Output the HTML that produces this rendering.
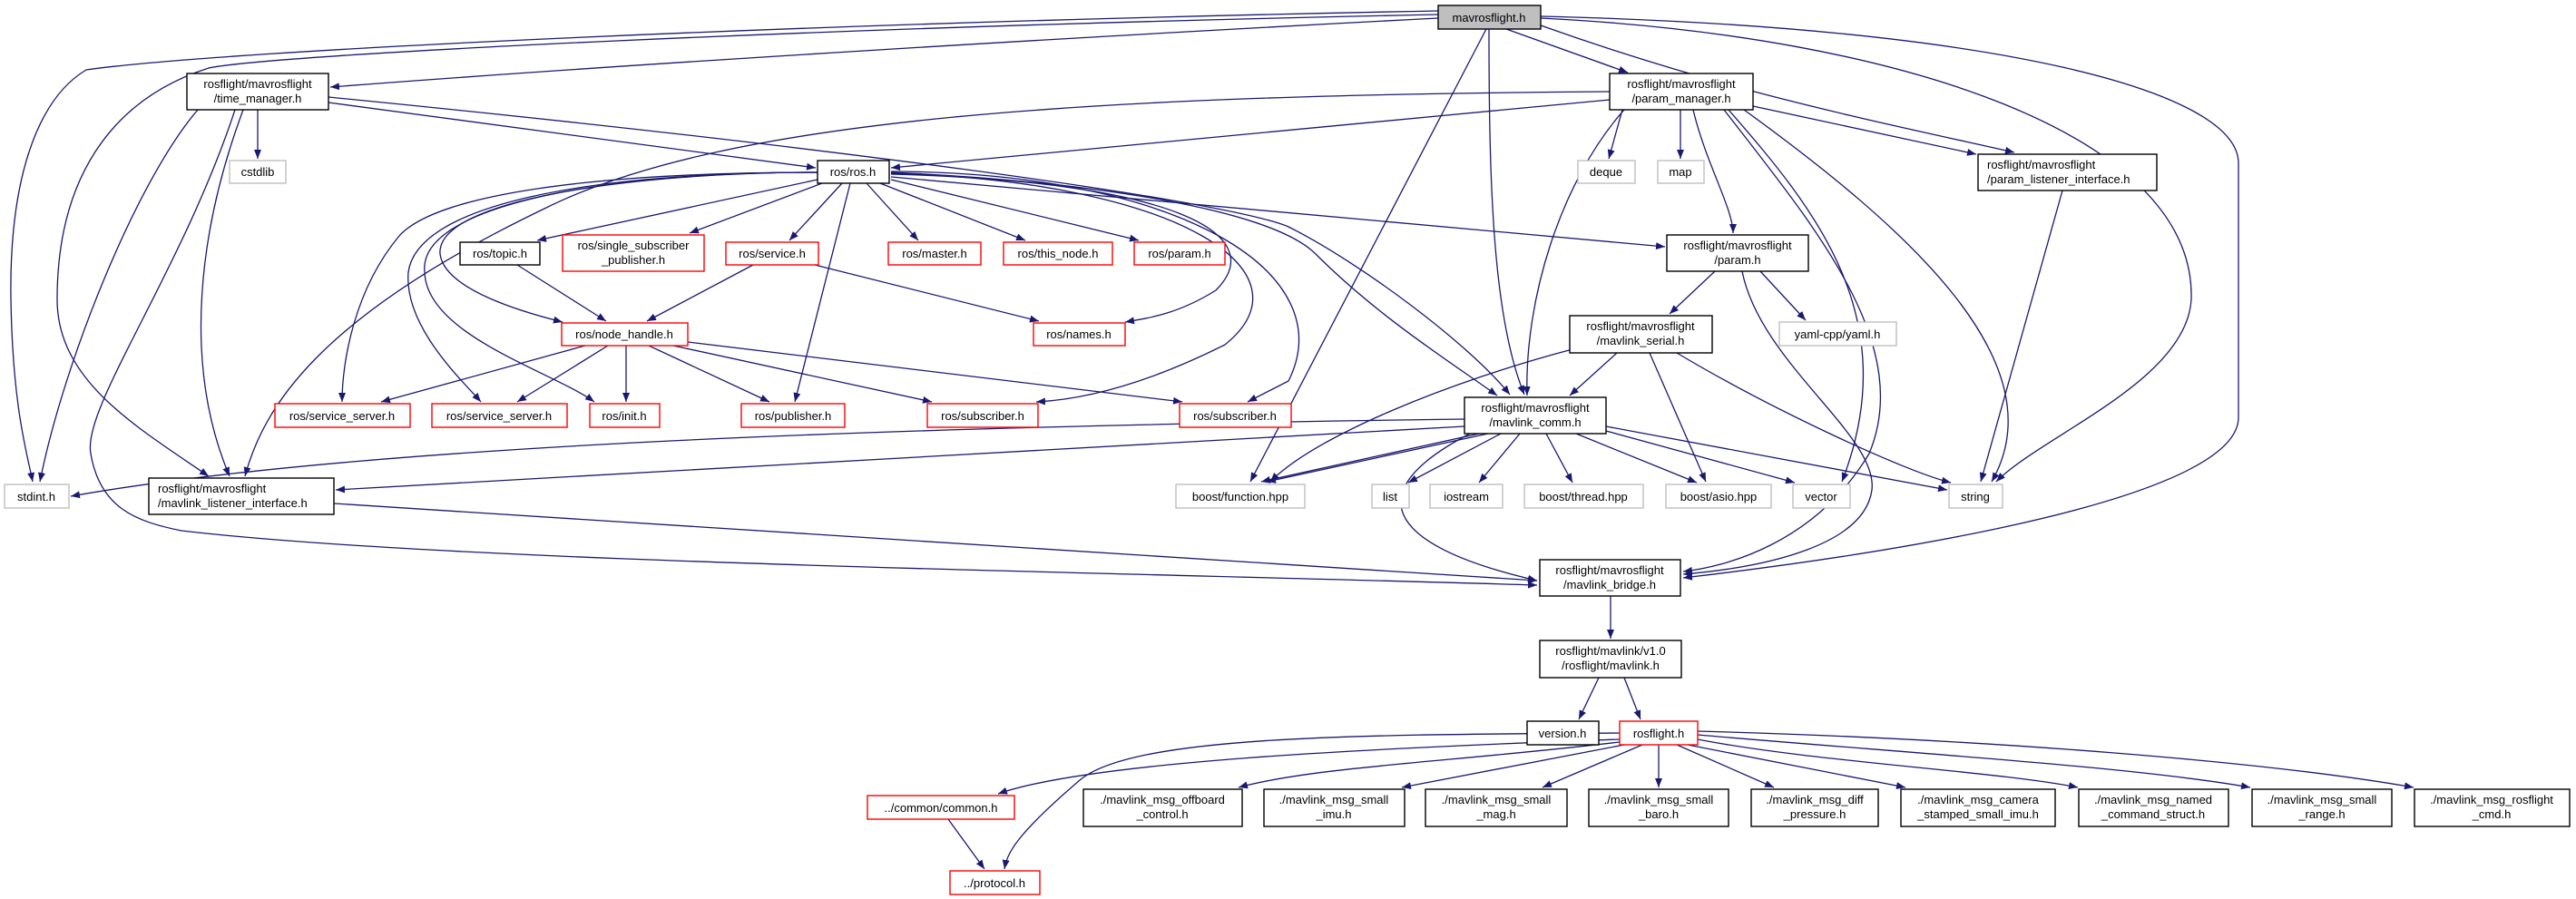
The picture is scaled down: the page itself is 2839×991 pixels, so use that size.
<!DOCTYPE html>
<html><head><meta charset="utf-8"><style>
html,body{margin:0;padding:0;background:#fff;}
svg{display:block;}
text{font-family:"Liberation Sans",sans-serif;font-size:13px;fill:#000;}
.e{fill:none;stroke:#191970;stroke-width:1.3;marker-end:url(#a);}
.b{fill:#fff;stroke:#000;stroke-width:1.4;}
.r{fill:#fff;stroke:#ff0000;stroke-width:1.4;}
.g{fill:#fff;stroke:#bfbfbf;stroke-width:1.4;}
</style></head><body>
<svg width="2839" height="991" viewBox="0 0 2839 991" xmlns="http://www.w3.org/2000/svg">
<defs><marker id="a" markerUnits="userSpaceOnUse" markerWidth="11" markerHeight="9" refX="10" refY="4" orient="auto"><path d="M0,0 L10,4 L0,8 z" fill="#191970"/></marker></defs>
<!-- edges -->
<path class="e" d="M1585,20 C1200,40 700,70 364,96"/>
<path class="e" d="M1585,12 C900,25 250,55 95,77 C40,110 10,200 12,330 C14,450 30,500 36,531"/>
<path class="e" d="M1585,16 C900,30 300,60 230,75 C120,110 63,200 63,330 C63,420 150,470 230,525"/>
<path class="e" d="M1660,32 L1794,80"/>
<path class="e" d="M1638,32 L1378,531"/>
<path class="e" d="M1641,32 C1641,200 1645,350 1680,435"/>
<path class="e" d="M1698,28 C1900,100 2050,130 2220,168"/>
<path class="e" d="M1698,20 C2100,40 2420,150 2415,330 C2410,420 2250,480 2200,531"/>
<path class="e" d="M1698,18 C2200,30 2467,100 2467,180 L2467,460 C2467,560 2000,620 1855,637"/>
<path class="e" d="M284,121 L284,175"/>
<path class="e" d="M362,113 L899,185"/>
<path class="e" d="M218,121 C150,200 70,400 44,531"/>
<path class="e" d="M268,121 C220,250 200,400 253,525"/>
<path class="e" d="M259,121 C200,300 90,450 100,500 C110,560 150,575 200,585 C500,620 1200,630 1694,645"/>
<path class="e" d="M362,107 C900,160 1350,220 1420,250 C1500,290 1620,380 1664,435"/>
<path class="e" d="M1774,110 L982,185"/>
<path class="e" d="M1774,101 C1200,105 800,130 600,230 C350,350 290,450 270,525"/>
<path class="e" d="M1788,121 L1773,175"/>
<path class="e" d="M1852,121 L1852,175"/>
<path class="e" d="M1866,121 C1880,180 1910,230 1910,257"/>
<path class="e" d="M1932,117 L2178,170"/>
<path class="e" d="M1790,121 C1720,200 1680,330 1683,436"/>
<path class="e" d="M1905,121 C2000,230 2100,350 2030,531"/>
<path class="e" d="M1922,121 C2100,250 2270,400 2195,531"/>
<path class="e" d="M1900,121 C2000,250 2110,380 2060,500 C2000,600 1900,625 1855,630"/>
<path class="e" d="M1890,299 L1840,346"/>
<path class="e" d="M1940,299 L1990,353"/>
<path class="e" d="M1920,299 C1940,400 2070,480 2063,540 C2055,600 1950,625 1855,633"/>
<path class="e" d="M1782,389 L1730,436"/>
<path class="e" d="M1733,385 C1600,420 1450,480 1400,531"/>
<path class="e" d="M1818,389 L1880,531"/>
<path class="e" d="M1848,389 C1950,450 2100,520 2150,532"/>
<path class="e" d="M2273,210 L2183,531"/>
<path class="e" d="M901,198 L592,265"/>
<path class="e" d="M906,202 L760,257"/>
<path class="e" d="M928,202 L870,265"/>
<path class="e" d="M937,202 L876,443"/>
<path class="e" d="M955,202 L1012,265"/>
<path class="e" d="M970,202 L1130,265"/>
<path class="e" d="M982,198 L1255,265"/>
<path class="e" d="M982,195 L1835,272"/>
<path class="e" d="M982,190 C1200,200 1400,230 1450,280 C1520,350 1600,400 1650,436"/>
<path class="e" d="M982,192 C1300,200 1400,260 1340,320 C1300,345 1270,350 1240,355"/>
<path class="e" d="M982,191 C1300,200 1450,300 1350,380 C1270,420 1200,440 1142,443"/>
<path class="e" d="M982,189 C1300,190 1480,300 1420,420 L1375,443"/>
<path class="e" d="M901,190 C700,190 480,220 485,280 C490,320 580,345 620,355"/>
<path class="e" d="M901,190 C650,190 480,215 440,260 C390,320 377,400 377,443"/>
<path class="e" d="M901,190 C650,190 460,225 450,300 C445,360 510,420 530,443"/>
<path class="e" d="M901,190 C650,190 460,230 468,300 C470,370 610,410 655,443"/>
<path class="e" d="M570,292 L668,354"/>
<path class="e" d="M830,292 L713,354"/>
<path class="e" d="M898,292 L1145,354"/>
<path class="e" d="M645,381 L420,443"/>
<path class="e" d="M670,381 L570,443"/>
<path class="e" d="M690,381 L690,443"/>
<path class="e" d="M715,381 L848,443"/>
<path class="e" d="M742,381 L1027,443"/>
<path class="e" d="M758,377 L1303,443"/>
<path class="e" d="M1614,462 C1000,470 400,490 78,547"/>
<path class="e" d="M1614,470 L370,540"/>
<path class="e" d="M1630,478 L1390,531"/>
<path class="e" d="M1640,478 L1396,531"/>
<path class="e" d="M1654,478 L1552,532"/>
<path class="e" d="M1675,478 L1630,532"/>
<path class="e" d="M1704,478 L1733,532"/>
<path class="e" d="M1737,478 L1870,532"/>
<path class="e" d="M1770,475 L1978,532"/>
<path class="e" d="M1770,470 L2146,540"/>
<path class="e" d="M1620,478 C1500,540 1520,600 1694,640"/>
<path class="e" d="M368,555 L1694,640"/>
<path class="e" d="M1775,657 L1775,704"/>
<path class="e" d="M1762,747 L1740,793"/>
<path class="e" d="M1790,747 L1808,793"/>
<path class="e" d="M1785,815 C1500,825 1200,840 1100,875"/>
<path class="e" d="M1785,808 C1500,810 1250,810 1190,860 C1120,920 1110,940 1107,958"/>
<path class="e" d="M1045,903 L1085,958"/>
<path class="e" d="M1785,818 C1600,840 1450,845 1365,868"/>
<path class="e" d="M1790,821 L1545,868"/>
<path class="e" d="M1810,821 L1700,868"/>
<path class="e" d="M1828,821 L1828,868"/>
<path class="e" d="M1848,821 L1955,868"/>
<path class="e" d="M1860,821 L2100,868"/>
<path class="e" d="M1871,815 C2000,840 2200,850 2290,868"/>
<path class="e" d="M1871,810 C2100,830 2350,845 2480,868"/>
<path class="e" d="M1871,806 C2200,815 2500,840 2660,868"/>
<!-- nodes -->
<g text-anchor="middle">
<rect x="1585" y="6" width="113" height="26" fill="#bfbfbf" stroke="#000" stroke-width="1.4"/><text x="1641" y="24">mavrosflight.h</text>
<rect class="b" x="206" y="81" width="156" height="40"/><text x="284" y="97">rosflight/mavrosflight</text><text x="284" y="113">/time_manager.h</text>
<rect class="b" x="1774" y="81" width="158" height="40"/><text x="1853" y="97">rosflight/mavrosflight</text><text x="1853" y="113">/param_manager.h</text>
<rect class="g" x="253" y="177" width="62" height="25"/><text x="284" y="194">cstdlib</text>
<rect class="b" x="901" y="177" width="79" height="25"/><text x="940" y="194">ros/ros.h</text>
<rect class="g" x="1739" y="177" width="63" height="25"/><text x="1770" y="194">deque</text>
<rect class="g" x="1827" y="177" width="51" height="25"/><text x="1852" y="194">map</text>
<rect class="b" x="2180" y="170" width="197" height="40"/><text x="2190" y="186" text-anchor="start">rosflight/mavrosflight</text><text x="2190" y="202" text-anchor="start">/param_listener_interface.h</text>
<rect class="b" x="507" y="267" width="88" height="25"/><text x="551" y="284">ros/topic.h</text>
<rect class="r" x="620" y="259" width="156" height="40"/><text x="698" y="275">ros/single_subscriber</text><text x="698" y="291">_publisher.h</text>
<rect class="r" x="800" y="267" width="102" height="25"/><text x="851" y="284">ros/service.h</text>
<rect class="r" x="979" y="267" width="102" height="25"/><text x="1030" y="284">ros/master.h</text>
<rect class="r" x="1106" y="267" width="120" height="25"/><text x="1166" y="284">ros/this_node.h</text>
<rect class="r" x="1250" y="267" width="100" height="25"/><text x="1300" y="284">ros/param.h</text>
<rect class="b" x="1837" y="259" width="156" height="40"/><text x="1915" y="275">rosflight/mavrosflight</text><text x="1915" y="291">/param.h</text>
<rect class="r" x="619" y="356" width="139" height="25"/><text x="688" y="373">ros/node_handle.h</text>
<rect class="r" x="1139" y="356" width="101" height="25"/><text x="1189" y="373">ros/names.h</text>
<rect class="b" x="1730" y="348" width="157" height="41"/><text x="1808" y="364">rosflight/mavrosflight</text><text x="1808" y="380">/mavlink_serial.h</text>
<rect class="g" x="1961" y="355" width="129" height="26"/><text x="2025" y="373">yaml-cpp/yaml.h</text>
<rect class="r" x="303" y="445" width="149" height="26"/><text x="377" y="463">ros/service_server.h</text>
<rect class="r" x="476" y="445" width="149" height="26"/><text x="550" y="463">ros/service_server.h</text>
<rect class="r" x="650" y="445" width="77" height="26"/><text x="688" y="463">ros/init.h</text>
<rect class="r" x="817" y="445" width="114" height="26"/><text x="874" y="463">ros/publisher.h</text>
<rect class="r" x="1022" y="445" width="122" height="26"/><text x="1083" y="463">ros/subscriber.h</text>
<rect class="r" x="1300" y="445" width="123" height="26"/><text x="1361" y="463">ros/subscriber.h</text>
<rect class="b" x="1614" y="438" width="156" height="40"/><text x="1692" y="454">rosflight/mavrosflight</text><text x="1692" y="470">/mavlink_comm.h</text>
<rect class="g" x="5" y="534" width="71" height="26"/><text x="40" y="552">stdint.h</text>
<rect class="b" x="164" y="527" width="204" height="40"/><text x="174" y="543" text-anchor="start">rosflight/mavrosflight</text><text x="174" y="559" text-anchor="start">/mavlink_listener_interface.h</text>
<rect class="g" x="1296" y="534" width="142" height="26"/><text x="1367" y="552">boost/function.hpp</text>
<rect class="g" x="1512" y="534" width="41" height="26"/><text x="1532" y="552">list</text>
<rect class="g" x="1576" y="534" width="80" height="26"/><text x="1616" y="552">iostream</text>
<rect class="g" x="1680" y="534" width="131" height="26"/><text x="1745" y="552">boost/thread.hpp</text>
<rect class="g" x="1836" y="534" width="116" height="26"/><text x="1894" y="552">boost/asio.hpp</text>
<rect class="g" x="1976" y="534" width="63" height="26"/><text x="2007" y="552">vector</text>
<rect class="g" x="2148" y="534" width="59" height="26"/><text x="2177" y="552">string</text>
<rect class="b" x="1697" y="617" width="155" height="40"/><text x="1774" y="633">rosflight/mavrosflight</text><text x="1774" y="649">/mavlink_bridge.h</text>
<rect class="b" x="1697" y="706" width="156" height="41"/><text x="1775" y="722">rosflight/mavlink/v1.0</text><text x="1775" y="738">/rosflight/mavlink.h</text>
<rect class="b" x="1683" y="795" width="79" height="26"/><text x="1722" y="813">version.h</text>
<rect class="r" x="1785" y="795" width="86" height="26"/><text x="1828" y="813">rosflight.h</text>
<rect class="r" x="956" y="877" width="162" height="26"/><text x="1037" y="895">../common/common.h</text>
<rect class="r" x="1047" y="960" width="99" height="26"/><text x="1096" y="978">../protocol.h</text>
<rect class="b" x="1194" y="870" width="175" height="41"/><text x="1281" y="886">./mavlink_msg_offboard</text><text x="1281" y="902">_control.h</text>
<rect class="b" x="1393" y="870" width="155" height="41"/><text x="1470" y="886">./mavlink_msg_small</text><text x="1470" y="902">_imu.h</text>
<rect class="b" x="1571" y="870" width="156" height="41"/><text x="1649" y="886">./mavlink_msg_small</text><text x="1649" y="902">_mag.h</text>
<rect class="b" x="1751" y="870" width="154" height="41"/><text x="1828" y="886">./mavlink_msg_small</text><text x="1828" y="902">_baro.h</text>
<rect class="b" x="1930" y="870" width="140" height="41"/><text x="2000" y="886">./mavlink_msg_diff</text><text x="2000" y="902">_pressure.h</text>
<rect class="b" x="2095" y="870" width="170" height="41"/><text x="2180" y="886">./mavlink_msg_camera</text><text x="2180" y="902">_stamped_small_imu.h</text>
<rect class="b" x="2291" y="870" width="165" height="41"/><text x="2373" y="886">./mavlink_msg_named</text><text x="2373" y="902">_command_struct.h</text>
<rect class="b" x="2482" y="870" width="154" height="41"/><text x="2559" y="886">./mavlink_msg_small</text><text x="2559" y="902">_range.h</text>
<rect class="b" x="2661" y="870" width="171" height="41"/><text x="2746" y="886">./mavlink_msg_rosflight</text><text x="2746" y="902">_cmd.h</text>
</g>
</svg>
</body></html>
